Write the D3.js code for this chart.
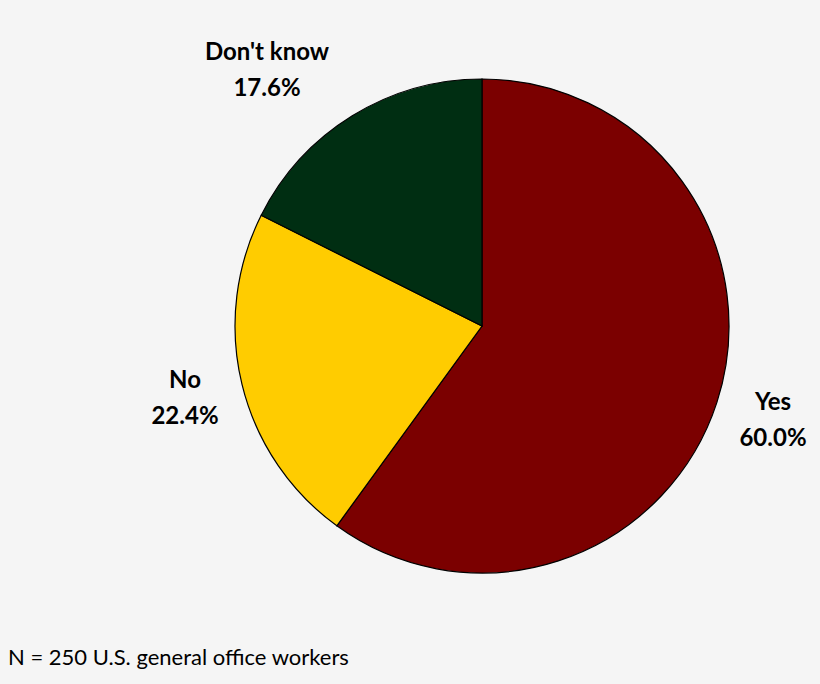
<!DOCTYPE html>
<html><head><meta charset="utf-8">
<script src="https://cdn.jsdelivr.net/npm/d3@7"></script>
<style>body{margin:0;background:#f5f5f5}svg{display:block}</style>
</head><body>
<svg id="c" width="820" height="684"></svg>
<script>
const categories = ["Yes", "No", "Don't know"];
const values = [60.0, 22.4, 17.6];
const colors = ["#7b0000", "#ffcc00", "#002e12"];
const labelPos = [[773, 402], [185, 380], [267, 52]];
const note = "N = 250 U.S. general office workers";

const svg = d3.select("#c");
svg.append("rect").attr("width",820).attr("height",684).attr("fill","#f5f5f5");
const cx = 482, cy = 326, r = 247;
const pie = d3.pie().sort(null).value(d => d)(values);
const arc = d3.arc().innerRadius(0).outerRadius(r);
const g = svg.append("g").attr("transform", `translate(${cx},${cy})`);
g.selectAll("path").data(pie).join("path")
  .attr("d", arc).attr("fill", (d,i) => colors[i])
  .attr("stroke", "#000").attr("stroke-width", 1.2);
const font = "Lato, 'Open Sans', sans-serif";
categories.forEach((c,i) => {
  const t = svg.append("text").attr("x", labelPos[i][0]).attr("y", labelPos[i][1])
    .attr("text-anchor","middle").attr("font-family",font).attr("font-weight","bold")
    .attr("font-size",24).attr("fill","#000");
  t.append("tspan").attr("x", labelPos[i][0]).attr("dy", 8).text(c);
  t.append("tspan").attr("x", labelPos[i][0]).attr("dy", 36).text(values[i].toFixed(1) + "%");
});
svg.append("text").attr("x", 8).attr("y", 665).attr("font-family", font)
  .attr("font-size", 22).attr("fill","#000").text(note);
</script>
</body></html>
